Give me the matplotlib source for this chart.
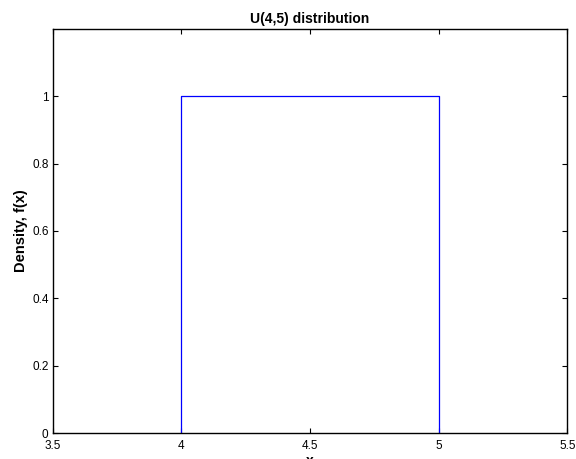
import matplotlib
matplotlib.use("Agg")
import matplotlib.pyplot as plt

# uniform density U(4,5) drawn as a box
x_vals = [4, 4, 5, 5]
y_vals = [0, 1, 1, 0]
x_ticks = [3.5, 4, 4.5, 5, 5.5]
y_ticks = [0, 0.2, 0.4, 0.6, 0.8, 1]

plt.rcParams['font.family'] = ['Liberation Sans', 'DejaVu Sans']

fig = plt.figure(figsize=(5.76, 4.59), dpi=100)
ax = fig.add_axes([0.0915, 0.056, 0.8934, 0.8815])

ax.plot(x_vals, y_vals, color='#0000ff', linewidth=0.9)

ax.set_xlim(3.5, 5.5)
ax.set_ylim(0, 1.2)
ax.set_xticks(x_ticks)
ax.set_xticklabels(['3.5', '4', '4.5', '5', '5.5'])
ax.set_yticks(y_ticks)
ax.set_yticklabels(['0', '0.2', '0.4', '0.6', '0.8', '1'])
ax.tick_params(direction='in', top=True, right=True, labelsize=8.5, length=3.6, width=0.8)
ax.tick_params(axis='x', pad=4.5)
ax.tick_params(axis='y', pad=3)
for s in ax.spines.values():
    s.set_linewidth(1.0)

ax.set_title("U(4,5) distribution", fontsize=10, fontweight='bold', pad=4)
ax.set_ylabel("Density, f(x)", fontsize=10.5, fontweight='bold', labelpad=3)
ax.set_xlabel("x", fontsize=10, fontweight='bold', labelpad=2)

fig.savefig("out.png", dpi=100)
